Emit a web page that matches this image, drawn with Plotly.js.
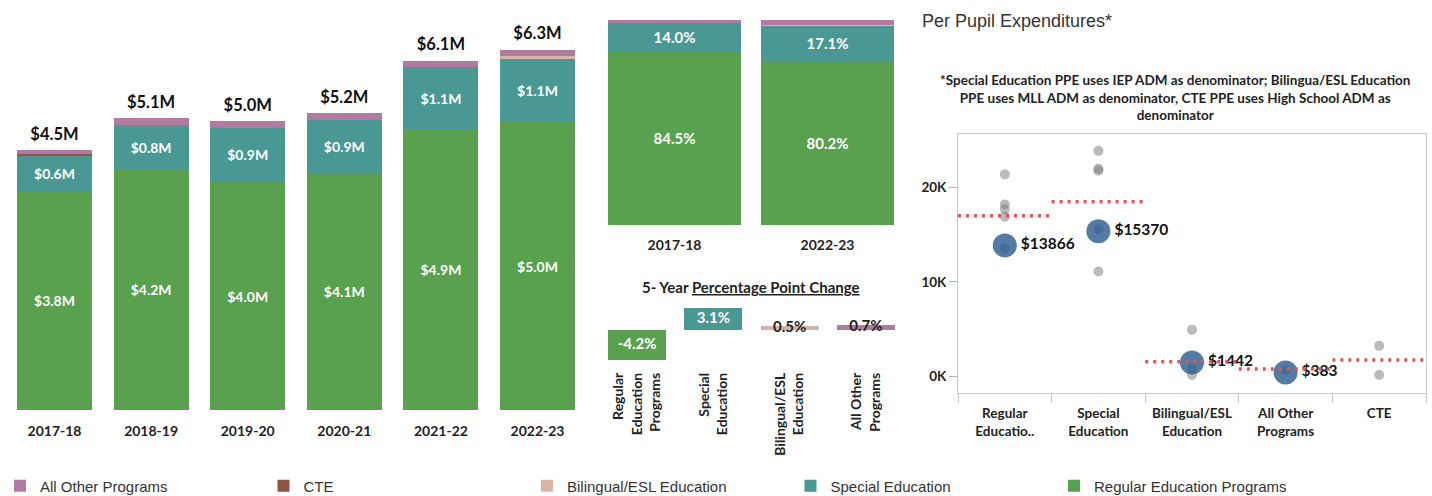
<!DOCTYPE html>
<html>
<head>
<meta charset="utf-8">
<script src="https://cdn.plot.ly/plotly-3.0.1.min.js"></script>
<style>html,body{margin:0;padding:0;background:#fff;}#chart{width:1432px;height:496px;}</style>
</head>
<body>
<div id="chart"></div>
<script>
// ---- Data: yearly expenditures ($M) ----
const years = ['2017-18','2018-19','2019-20','2020-21','2021-22','2022-23'];
const regularM   = [3.80, 4.18, 3.96, 4.10, 4.87, 5.00];
const specialM   = [0.62, 0.77, 0.94, 0.94, 1.08, 1.10];
const bilingualM = [0.00, 0.00, 0.00, 0.00, 0.00, 0.04];
const cteM       = [0.03, 0.00, 0.00, 0.00, 0.00, 0.00];
const otherM     = [0.07, 0.12, 0.12, 0.12, 0.12, 0.12];

// ---- Data: share of expenditures (%) ----
const shareYears   = ['2017-18','2022-23'];
const regularPct   = [84.5, 80.2];
const specialPct   = [14.0, 17.1];
const bilingualPct = [0.0, 0.5];
const ctePct       = [0.2, 0.0];
const otherPct     = [1.3, 2.2];

// ---- Data: 5-year percentage point change ----
const changeCats = ['Regular<br>Education<br>Programs','Special<br>Education','Bilingual/ESL<br>Education','All Other<br>Programs'];
const changeVals = [-4.2, 3.1, 0.5, 0.7];

// ---- Data: per pupil expenditures ----
const ppeCats = ['Regular<br>Educatio..','Special<br>Education','Bilingual/ESL<br>Education','All Other<br>Programs','CTE'];
const ppeDistrictCats = ['Regular<br>Educatio..','Special<br>Education','Bilingual/ESL<br>Education','All Other<br>Programs'];
const ppeDistrict = [13866, 15370, 1442, 383];
const ppeAverage  = [17000, 18500, 1500, 750, 1700];
const peerCats = ['Regular<br>Educatio..','Regular<br>Educatio..','Regular<br>Educatio..','Regular<br>Educatio..','Regular<br>Educatio..',
                  'Special<br>Education','Special<br>Education','Special<br>Education','Special<br>Education','Special<br>Education',
                  'Bilingual/ESL<br>Education','Bilingual/ESL<br>Education','Bilingual/ESL<br>Education',
                  'All Other<br>Programs','CTE','CTE'];
const peerVals = [21400, 18200, 17700, 16900, 13500,
                  23900, 22000, 21800, 15600, 11100,
                  4900, 850, 100,
                  600, 3200, 100];

// ---- Styles ----
const C = {other:'#b07aa1', cte:'#8c5548', bil:'#d7b5a6', special:'#499894', regular:'#59a14f'};
const BOLD = 'Lato';
const W = 1432, H = 496;
const px = v => v / W, py = v => 1 - v / H;

const traces = [];
const stackSeries = [
  {name:'Regular Education Programs', m:regularM, p:regularPct, c:C.regular, rank:5, txt:true},
  {name:'Special Education', m:specialM, p:specialPct, c:C.special, rank:4, txt:true},
  {name:'Bilingual/ESL Education', m:bilingualM, p:bilingualPct, c:C.bil, rank:3, txt:false},
  {name:'CTE', m:cteM, p:ctePct, c:C.cte, rank:2, txt:false},
  {name:'All Other Programs', m:otherM, p:otherPct, c:C.other, rank:1, txt:false}
];
stackSeries.forEach(s => {
  traces.push({
    type:'bar', x:years, y:s.m, name:s.name, legendrank:s.rank, legendgroup:s.name,
    marker:{color:s.c}, width:0.776, xaxis:'x', yaxis:'y',
    texttemplate: s.txt ? '$%{y:.1f}M' : '', textposition: s.txt ? 'inside' : 'none',
    insidetextanchor:'middle', constraintext:'none',
    textfont:{family:BOLD, size:14, color:'#ffffff', weight:'bold'}, hoverinfo:'skip'
  });
  traces.push({
    type:'bar', x:shareYears, y:s.p, name:s.name, showlegend:false, legendgroup:s.name,
    marker:{color:s.c}, width:0.87, xaxis:'x2', yaxis:'y2',
    texttemplate: s.txt ? '%{y:.1f}%' : '', textposition: s.txt ? 'inside' : 'none',
    insidetextanchor:'middle', constraintext:'none',
    textfont:{family:BOLD, size:15, color:'#ffffff', weight:'bold'}, hoverinfo:'skip'
  });
});
// totals
const totals = years.map((_, i) => regularM[i] + specialM[i] + bilingualM[i] + cteM[i] + otherM[i]);
traces.push({
  type:'scatter', mode:'markers+text', x:years, y:totals, texttemplate:'$%{y:.1f}M', textposition:'top center',
  marker:{size:8, opacity:0},
  textfont:{family:BOLD, size:16.5, color:'#111', weight:'bold'}, showlegend:false, xaxis:'x', yaxis:'y', hoverinfo:'skip', cliponaxis:false
});
// change bars
traces.push({
  type:'bar', x:changeCats, y:changeVals, width:0.76, showlegend:false, xaxis:'x3', yaxis:'y3',
  marker:{color:[C.regular, C.special, C.bil, C.other]}, hoverinfo:'skip'
});
traces.push({
  type:'scatter', mode:'text', x:changeCats, y:changeVals.map(v => v / 2),
  text:changeVals.map(v => v.toFixed(1) + '%'), textposition:'middle center',
  textfont:{family:BOLD, size:15, color:['#ffffff','#ffffff','#222','#222'], weight:'bold'},
  showlegend:false, xaxis:'x3', yaxis:'y3', hoverinfo:'skip', cliponaxis:false
});
// per pupil: peers
traces.push({
  type:'scatter', mode:'markers', x:peerCats, y:peerVals, showlegend:false, xaxis:'x4', yaxis:'y4',
  marker:{size:10, color:'rgba(120,120,120,0.5)'}, hoverinfo:'skip'
});
// district
traces.push({
  type:'scatter', mode:'markers+text', x:ppeDistrictCats, y:ppeDistrict, showlegend:false, xaxis:'x4', yaxis:'y4',
  marker:{size:24, color:'rgba(40,90,140,0.8)'}, texttemplate:'$%{y:.0f}', textposition:'middle right',
  textfont:{family:BOLD, size:15.5, color:'#111', weight:'bold'}, hoverinfo:'skip', cliponaxis:false
});
// averages (dotted segments spanning each category)
const avgX = [], avgY = [];
ppeAverage.forEach((v, i) => { avgX.push(i - 0.5, i + 0.5, null); avgY.push(v, v, null); });
traces.push({
  type:'scatter', mode:'lines', x:avgX, y:avgY, showlegend:false, xaxis:'x5', yaxis:'y4',
  line:{color:'#e15759', width:3.5, dash:'3px,5px'}, hoverinfo:'skip', connectgaps:false
});

const hidden = {showgrid:false, zeroline:false, showticklabels:false, showline:false, ticks:''};
const tickFontB = {family:BOLD, size:14, color:'#222', weight:'bold'};

const layout = {
  width:W, height:H, margin:{l:0, r:0, t:0, b:0, autoexpand:false},
  paper_bgcolor:'#fff', plot_bgcolor:'rgba(0,0,0,0)',
  barmode:'stack', showlegend:true, hovermode:false,
  xaxis:{domain:[px(6.2), px(585.8)], anchor:'y', type:'category', showgrid:false, zeroline:false, showline:false, ticks:'',
         tickfont:tickFontB, ticklabelstandoff:11},
  yaxis:{domain:[py(410), py(30)], anchor:'x', range:[0, 6.6], ...hidden},
  xaxis2:{domain:[px(598), px(904)], anchor:'y2', type:'category', showgrid:false, zeroline:false, showline:false, ticks:'',
          tickfont:tickFontB, ticklabelstandoff:10},
  yaxis2:{domain:[py(225), py(20)], anchor:'x2', range:[0, 100], ...hidden},
  xaxis3:{domain:[px(599), px(904)], anchor:'y3', type:'category', showgrid:false, zeroline:false, showline:false, ticks:'',
          tickangle:-90, tickfont:{family:BOLD, size:14, color:'#222', weight:'bold'}, ticklabelstandoff:4},
  yaxis3:{domain:[py(365), py(300)], anchor:'x3', range:[-4.93, 4.23], ...hidden},
  xaxis4:{domain:[px(958), px(1426)], anchor:'y4', type:'category', categoryorder:'array', categoryarray:ppeCats,
          range:[-0.5, 4.5], showgrid:false, zeroline:false, showline:true, mirror:true, linecolor:'#c8c8c8', linewidth:1,
          ticks:'outside', tickson:'boundaries', ticklen:9, tickcolor:'#c8c8c8', tickwidth:1,
          tickfont:{family:BOLD, size:13.5, color:'#222', weight:'bold'}, ticklabelstandoff:8},
  xaxis5:{domain:[px(958), px(1426)], anchor:'y4', overlaying:'x4', range:[-0.5, 4.5], ...hidden, visible:false},
  yaxis4:{domain:[py(393), py(134)], anchor:'x4', range:[-1805, 25690], showgrid:false, zeroline:false,
          showline:true, mirror:true, linecolor:'#c8c8c8', linewidth:1,
          tickmode:'array', tickvals:[0, 10000, 20000], ticktext:['0K','10K','20K'],
          ticks:'outside', ticklen:8, tickcolor:'#b0b0b0', tickfont:{family:BOLD, size:13.5, color:'#222', weight:'bold'}},
  legend:{orientation:'h', x:0, xanchor:'left', y:py(486), yanchor:'middle', entrywidth:218.5, entrywidthmode:'pixels',
          font:{family:'Liberation Sans', size:15, color:'#333'}, traceorder:'normal', bgcolor:'rgba(0,0,0,0)'},
  annotations:[
    {xref:'paper', yref:'paper', x:px(751), y:py(287), xanchor:'center', yanchor:'middle', showarrow:false,
     text:'5- Year <u>Percentage Point Change</u>', font:{family:BOLD, size:15, color:'#222', weight:'bold'}},
    {xref:'paper', yref:'paper', x:px(920), y:py(21), xanchor:'left', yanchor:'middle', showarrow:false,
     text:'Per Pupil Expenditures*', font:{family:'Liberation Sans', size:18, color:'#333'}},
    {xref:'paper', yref:'paper', x:px(1175), y:py(97), xanchor:'center', yanchor:'middle', showarrow:false, align:'center',
     text:'*Special Education PPE uses IEP ADM as denominator; Bilingua/ESL Education<br>PPE uses MLL ADM as denominator, CTE PPE uses High School ADM as<br>denominator',
     font:{family:BOLD, size:13.5, color:'#222', weight:'bold'}}
  ]
};

Plotly.newPlot('chart', traces, layout, {staticPlot:true, displayModeBar:false});
</script>
</body>
</html>
